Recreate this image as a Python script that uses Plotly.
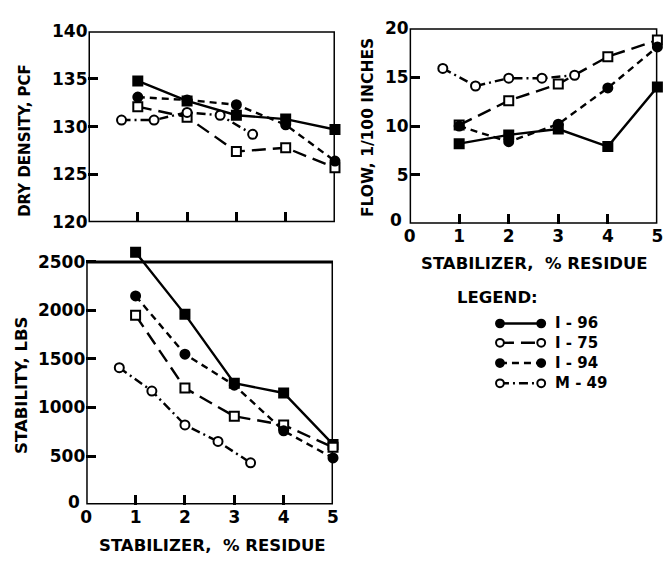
import plotly.graph_objects as go

# Percent residue of stabilizer for the three I-series mixes and the M-49 mix
pct = [1, 2, 3, 4, 5]
pct_m49 = [0.67, 1.33, 2, 2.67, 3.33]

# Dry density, pcf
dens_i96 = [134.8, 132.7, 131.2, 130.8, 129.7]
dens_i75 = [132.1, 131.0, 127.4, 127.8, 125.7]
dens_i94 = [133.1, 132.8, 132.3, 130.2, 126.4]
dens_m49 = [130.7, 130.7, 131.5, 131.2, 129.2]

# Flow, 1/100 inches
flow_i96 = [8.2, 9.1, 9.7, 7.9, 14.0]
flow_i75 = [10.1, 12.6, 14.3, 17.1, 18.8]
flow_i94 = [10.0, 8.4, 10.2, 13.9, 18.1]
flow_m49 = [15.9, 14.1, 14.9, 14.9, 15.2]

# Marshall stability, lbs
stab_i96 = [2600, 1960, 1250, 1150, 620]
stab_i75 = [1950, 1200, 910, 820, 590]
stab_i94 = [2150, 1550, 1230, 760, 480]
stab_m49 = [1410, 1170, 820, 650, 430]

mixes = ["I-96", "I-75", "I-94", "M-49"]
x_tick_vals = [0, 1, 2, 3, 4, 5]
dens_ticks = [120, 125, 130, 135, 140]
flow_ticks = [0, 5, 10, 15, 20]
stab_ticks = [0, 500, 1000, 1500, 2000, 2500]

W, H = 668, 565
FONT = "DejaVu Sans"
INK = "black"

style = {
    "I-96": dict(dash="solid", symbol="square", fill=INK),
    "I-75": dict(dash="14px,7px", symbol="square", fill="white"),
    "I-94": dict(dash="7px,5px", symbol="circle", fill=INK),
    "M-49": dict(dash="9px,4px,2px,4px", symbol="circle", fill="white"),
}

panels = [
    ("x", "y", [pct, pct, pct, pct_m49], [dens_i96, dens_i75, dens_i94, dens_m49]),
    ("x2", "y2", [pct, pct, pct, pct_m49], [flow_i96, flow_i75, flow_i94, flow_m49]),
    ("x3", "y3", [pct, pct, pct, pct_m49], [stab_i96, stab_i75, stab_i94, stab_m49]),
]

fig = go.Figure()
for xa, ya, xs_list, ys_list in panels:
    for name, xs, ys in zip(mixes, xs_list, ys_list):
        st = style[name]
        fig.add_trace(go.Scatter(
            x=xs, y=ys, xaxis=xa, yaxis=ya, mode="lines+markers", name=name,
            showlegend=False, cliponaxis=False,
            line=dict(color=INK, width=2.4, dash=st["dash"]),
            marker=dict(symbol=st["symbol"], size=9, color=st["fill"],
                        line=dict(color=INK, width=2)),
        ))


def px_x(p):
    return p / W


def px_y(p):
    return 1 - p / H


tick_font = dict(family=FONT, size=17, color=INK, weight="bold")
common = dict(ticks="inside", ticklen=10, tickwidth=2.5, tickcolor=INK,
              showgrid=False, zeroline=False, showline=False,
              tickfont=tick_font, fixedrange=True)


def tick_text(vals, skip_zero=False):
    return ["" if (skip_zero and v == 0) else str(v) for v in vals]


# Panel placement (pixel edges converted to paper fractions)
dens_dom_x = [px_x(84), px_x(335)]
dens_dom_y = [px_y(220), px_y(22)]
flow_dom_x = [px_x(411), px_x(663.3)]
flow_dom_y = [px_y(221.7), px_y(19)]
stab_top = 2650
stab_dom_x = [px_x(81.7), px_x(333)]
y0, y25 = px_y(512.7), px_y(261.2)
stab_dom_y = [y0, y0 + (y25 - y0) * stab_top / 2500]

fig.update_layout(
    width=W, height=H,
    margin=dict(l=0, r=0, t=0, b=0),
    paper_bgcolor="white", plot_bgcolor="white",
    font=dict(family=FONT, color=INK),
    xaxis=dict(domain=dens_dom_x, range=[0, 5], anchor="y",
               tickvals=[1, 2, 3, 4], showticklabels=False, **common),
    yaxis=dict(domain=dens_dom_y, range=[120, 140], anchor="x",
               tickvals=dens_ticks, **common),
    xaxis2=dict(domain=flow_dom_x, range=[0, 5], anchor="y2",
                tickvals=x_tick_vals, **common),
    yaxis2=dict(domain=flow_dom_y, range=[0, 20], anchor="x2",
                tickvals=flow_ticks, ticktext=tick_text(flow_ticks, True), **common),
    xaxis3=dict(domain=stab_dom_x, range=[0, 5], anchor="y3",
                tickvals=x_tick_vals, **common),
    yaxis3=dict(domain=stab_dom_y, range=[0, stab_top], anchor="x3",
                tickvals=stab_ticks, ticktext=tick_text(stab_ticks, True), **common),
)

# Panel frames
frames = [("x", "y", 0, 5, 120, 140), ("x2", "y2", 0, 5, 0, 20),
          ("x3", "y3", 0, 5, 0, 2500)]
for xa, ya, xa0, xa1, ya0, ya1 in frames:
    fig.add_shape(type="rect", xref=xa, yref=ya, x0=xa0, x1=xa1, y0=ya0, y1=ya1,
                  line=dict(color=INK, width=3), fillcolor="rgba(0,0,0,0)",
                  layer="below")


def label(text, x, y, angle=0, xanchor="center", size=15.5):
    fig.add_annotation(text=f"<b>{text}</b>", xref="paper", yref="paper",
                       x=px_x(x), y=px_y(y), showarrow=False, textangle=angle,
                       xanchor=xanchor, yanchor="middle",
                       font=dict(family=FONT, size=size, color=INK))


# Zero labels of the vertical axes sit just left of the frame corners
label("0", 397, 218, size=17)
label("0", 69, 510, size=17)

label("DRY DENSITY, PCF", 20, 135, angle=-90, size=15)
label("FLOW, 1/100 INCHES", 368, 122, angle=-90, size=15.5)
label("STABILITY, LBS", 15, 389, angle=-90, size=16.5)
label("STABILIZER,&nbsp;&nbsp;% RESIDUE", 538, 263, size=16.5)
label("STABILIZER,&nbsp;&nbsp;% RESIDUE", 210, 555, size=16.5)

# Legend block
label("LEGEND:", 457, 298, xanchor="left", size=16.5)
key_rows = [325, 345, 366, 387]
key_x0, key_x1, text_x = 503, 545, 557
for name, ky in zip(mixes, key_rows):
    st = style[name]
    fig.add_shape(type="line", xref="paper", yref="paper",
                  x0=px_x(key_x0), x1=px_x(key_x1), y0=px_y(ky), y1=px_y(ky),
                  line=dict(color=INK, width=2.4, dash=st["dash"]))
    for kx in (key_x0, key_x1):
        r = 4
        fig.add_shape(type="circle", xref="paper", yref="paper",
                      x0=px_x(kx - r), x1=px_x(kx + r),
                      y0=px_y(ky + r), y1=px_y(ky - r),
                      line=dict(color=INK, width=2), fillcolor=st["fill"])
    label(name.replace("-", " - "), text_x, ky, xanchor="left", size=15)

fig.write_html("out.html")
